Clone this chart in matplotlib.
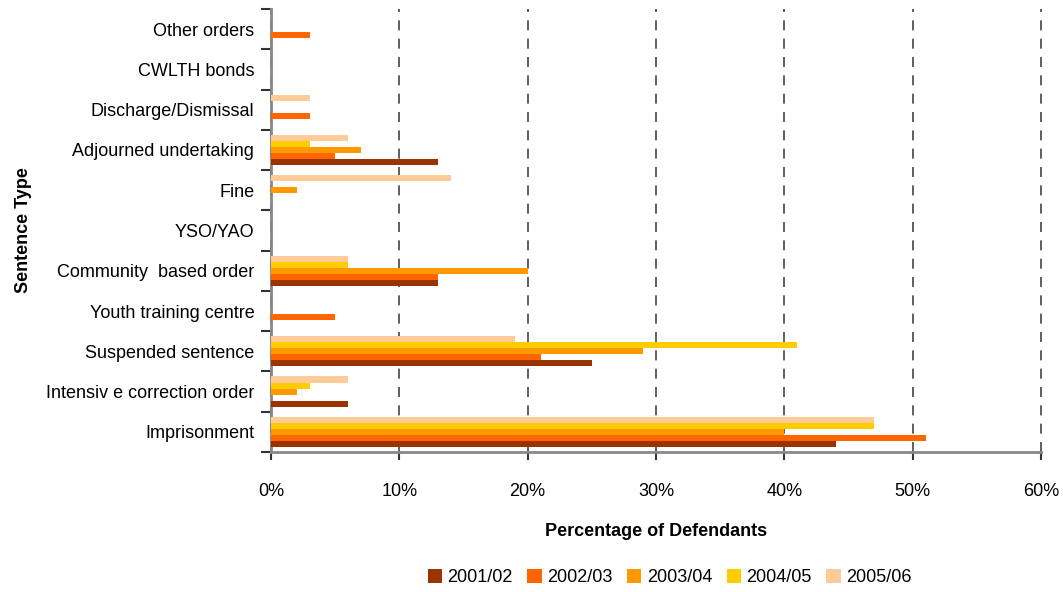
import numpy as np
import matplotlib
matplotlib.use('Agg')
import matplotlib.pyplot as plt
from matplotlib.ticker import FixedLocator, NullFormatter

plt.rcParams['font.family'] = ['Liberation Sans', 'DejaVu Sans']

# categories bottom to top
categories = ['Imprisonment', 'Intensiv e correction order', 'Suspended sentence',
              'Youth training centre', 'Community  based order', 'YSO/YAO', 'Fine',
              'Adjourned undertaking', 'Discharge/Dismissal', 'CWLTH bonds', 'Other orders']

years = ['2001/02', '2002/03', '2003/04', '2004/05', '2005/06']
colors = ['#993300', '#FF6600', '#FF9900', '#FFCC00', '#FFCC99']

pct_2001 = [44, 6, 25, 0, 13, 0, 0, 13, 0, 0, 0]
pct_2002 = [51, 0, 21, 5, 13, 0, 0, 5, 3, 0, 3]
pct_2003 = [40, 2, 29, 0, 20, 0, 2, 7, 0, 0, 0]
pct_2004 = [47, 3, 41, 0, 6, 0, 0, 3, 0, 0, 0]
pct_2005 = [47, 6, 19, 0, 6, 0, 14, 6, 3, 0, 0]
series = [pct_2001, pct_2002, pct_2003, pct_2004, pct_2005]

fs = 13

fig = plt.figure(figsize=(10.63, 5.92), dpi=100)
ax = fig.add_axes([271 / 1063, 1 - 452 / 592, 770 / 1063, 443 / 592])

y = np.arange(len(categories))
h = 0.15
for i, (vals, col, yr) in enumerate(zip(series, colors, years)):
    ax.barh(y + (i - 2) * h, vals, height=h, color=col, label=yr, zorder=3)

ax.set_xlim(0, 60)
ax.set_ylim(-0.5, len(categories) - 0.5)
ax.set_xticks(np.arange(0, 61, 10))
ax.set_xticklabels([f'{v}%' for v in range(0, 61, 10)], fontsize=fs)
ax.xaxis.grid(True, linestyle=(0, (6, 5)), color='#444444', linewidth=1.2, zorder=0)
for gl in ax.get_xgridlines():
    gl.set_clip_on(False)

# category boundaries as major ticks, labels on minor ticks
ax.yaxis.set_major_locator(FixedLocator(np.arange(-0.5, len(categories), 1)))
ax.yaxis.set_major_formatter(NullFormatter())
ax.yaxis.set_minor_locator(FixedLocator(y))
ax.set_yticklabels(categories, minor=True, fontsize=fs)
ax.tick_params(axis='y', which='minor', length=0, pad=12)
ax.tick_params(axis='y', which='major', length=7, color='#333333', width=1.5)
ax.tick_params(axis='x', length=6, color='#333333', width=1.5, pad=16)

for s in ['top', 'right']:
    ax.spines[s].set_visible(False)
for s in ['left', 'bottom']:
    ax.spines[s].set_color('#888888')
    ax.spines[s].set_linewidth(2)

ax.set_xlabel('Percentage of Defendants', fontsize=fs, fontweight='bold', labelpad=17)
ax.set_ylabel('Sentence Type', fontsize=fs, fontweight='bold', labelpad=10)

fig.legend(loc='lower center', bbox_to_anchor=(0.63, -0.018), ncol=5, frameon=False,
           fontsize=fs, handlelength=0.8, handleheight=0.8, handletextpad=0.3,
           columnspacing=0.8)

fig.savefig('out.png', dpi=100)
